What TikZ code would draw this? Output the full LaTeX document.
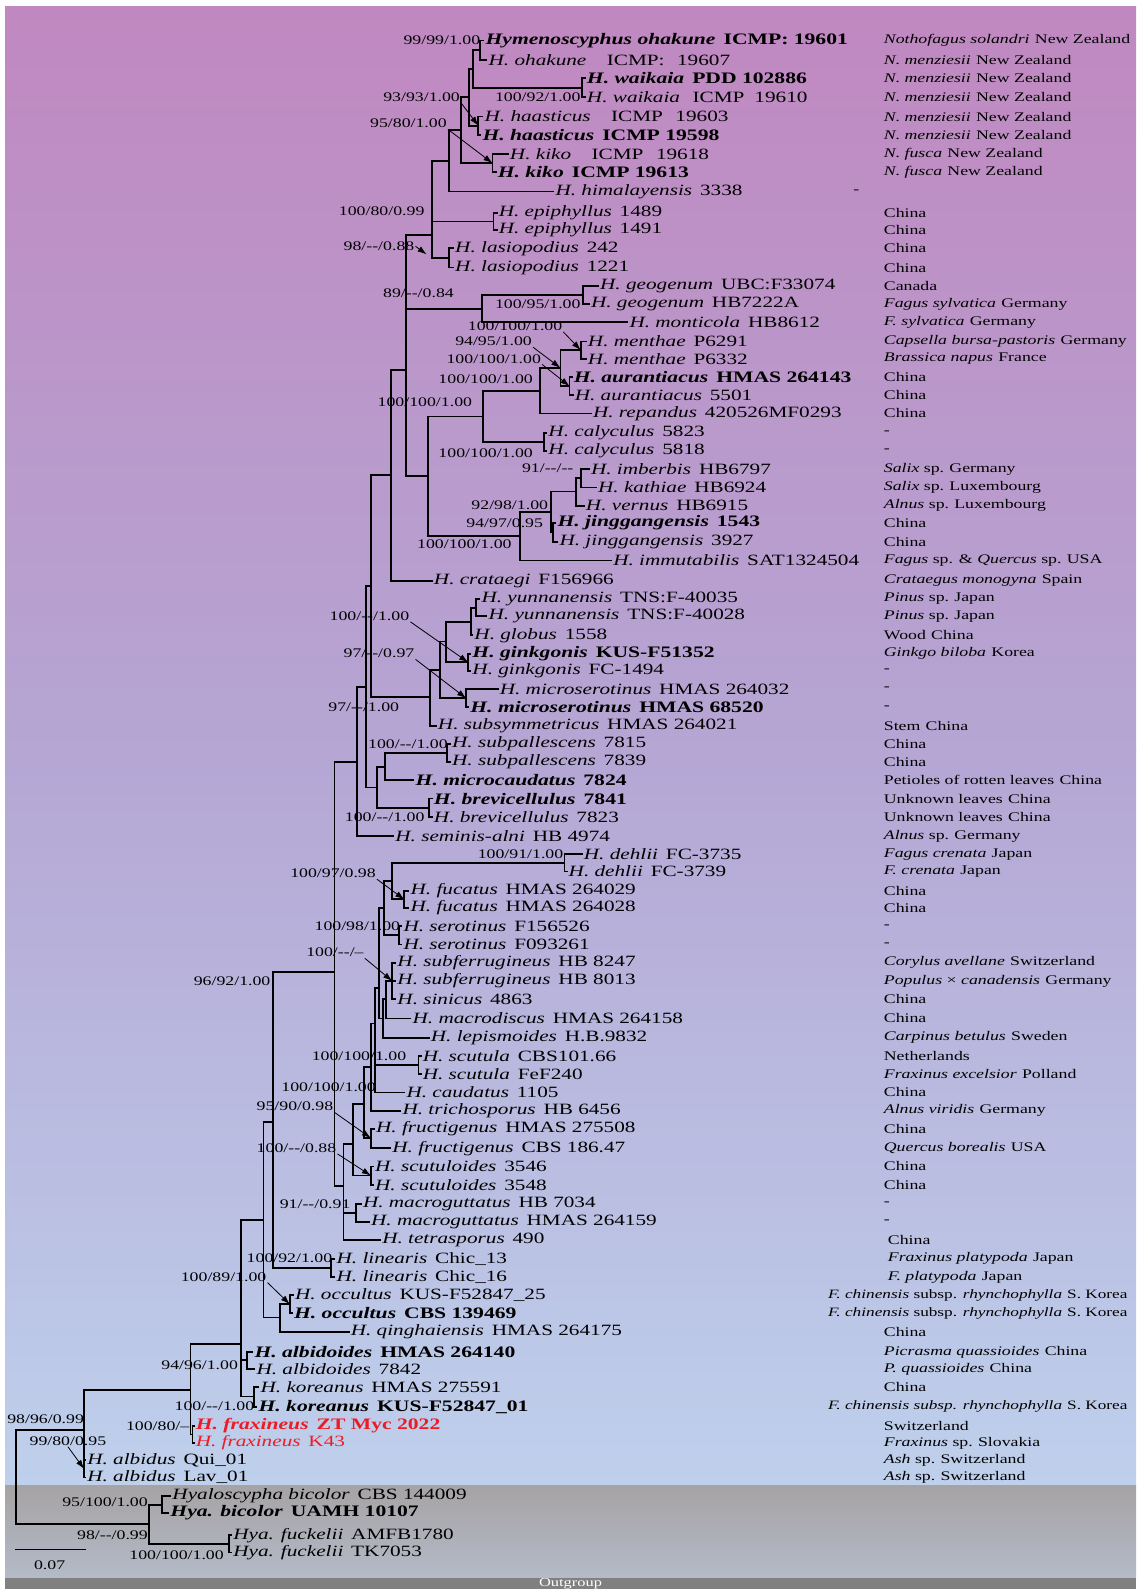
\documentclass[tikz,border=0pt]{standalone}
\usepackage{fontspec}
\setmainfont{Liberation Serif}[FakeStretch=1.35]
\usetikzlibrary{arrows.meta}

\definecolor{bgtop}{RGB}{192,136,192}
\definecolor{bgmid}{RGB}{181,166,212}
\definecolor{bglow}{RGB}{190,208,236}
\definecolor{grtop}{RGB}{166,163,164}
\definecolor{grlow}{RGB}{180,186,200}
\definecolor{outbar}{RGB}{128,128,128}
\definecolor{frax}{RGB}{236,28,36}

% tip labels: plain / bold
\newcommand\tp[2]{\textit{#1}\hspace{0.5em}#2}
\newcommand\tb[2]{{\fontsize{15.8}{17}\selectfont\bfseries\textit{#1}\hspace{0.5em}#2}}
\newcommand\hs[2]{\textit{#1}\hspace{0.4em}#2}
\newcommand\sm{\fontsize{12.6}{14}\selectfont}
\newcommand\wg{\hspace{0.8em}}

\tikzset{
  br/.style={line width=1.8pt},
  tip/.style={anchor=west,inner sep=1pt,font=\fontsize{15.5}{17}\selectfont},
  host/.style={anchor=west,inner sep=0pt,font=\fontsize{13}{15}\selectfont},
  supp/.style={anchor=east,inner sep=1pt,font=\fontsize{13}{15}\selectfont},
  pt/.style={line width=0.8pt,-{Latex[length=9pt,width=6pt]}},
}

\begin{document}
\begin{tikzpicture}[x=1pt,y=-1pt]
\useasboundingbox (0,0) rectangle (1121,1568);
% background bands
\fill[white] (0,0) rectangle (1121,1568);
\shade[top color=bgtop,bottom color=bgmid] (5,6) rectangle (1121,740.5);
\shade[top color=bgmid,bottom color=bglow] (5,740) rectangle (1121,1466);
\shade[top color=grtop,bottom color=grlow] (5,1466) rectangle (1121,1557);
\fill[outbar] (5,1557) rectangle (1121,1568);
\node[font=\fontsize{12}{13}\selectfont,text=white,inner sep=0pt] (og) at (563,1563) {Outgroup};

% tips
\foreach \n/\x/\y/\lab in {
  1/478/40/{\tb{Hymenoscyphus ohakune}{ICMP: 19601}},
  2/481/59/{\tp{H. ohakune}{\wg ICMP:\wg 19607}},
  3/578/77/{\tb{H. waikaia}{PDD 102886}},
  4/578/96/{\tp{H. waikaia}{\hspace{0.3em}ICMP\hspace{0.3em} 19610}},
  5/477/115/{\tp{H. haasticus}{\wg ICMP\wg 19603}},
  6/475/133/{\tb{H. haasticus}{ICMP 19598}},
  7/502/152/{\tp{H. kiko}{\wg ICMP\wg 19618}},
  8/490/170/{\tb{H. kiko}{ICMP 19613}},
  9/547/189/{\tp{H. himalayensis}{3338}},
  10/491/210/{\tp{H. epiphyllus}{1489}},
  11/491/227/{\tp{H. epiphyllus}{1491}},
  12/448/245/{\tp{H. lasiopodius}{242}},
  13/448/264/{\tp{H. lasiopodius}{1221}},
  14/591/282/{\tp{H. geogenum}{UBC:F33074}},
  15/582/300/{\tp{H. geogenum}{HB7222A}},
  16/620/318/{\tp{H. monticola}{HB8612}},
  17/579/337/{\tp{H. menthae}{P6291}},
  18/579/354/{\tp{H. menthae}{P6332}},
  19/565/372/{\tb{H. aurantiacus}{HMAS 264143}},
  20/566/390/{\tp{H. aurantiacus}{5501}},
  21/584/408/{\tp{H. repandus}{420526MF0293}},
  22/540/427/{\tp{H. calyculus}{5823}},
  23/540/445/{\tp{H. calyculus}{5818}},
  24/582/463/{\tp{H. imberbis}{HB6797}},
  25/589/481/{\tp{H. kathiae}{HB6924}},
  26/577/499/{\tp{H. vernus}{HB6915}},
  27/549/516/{\tb{H. jinggangensis}{1543}},
  28/551/535/{\tp{H. jinggangensis}{3927}},
  29/604/553/{\tp{H. immutabilis}{SAT1324504}},
  30/427/573/{\tp{H. crataegi}{F156966}},
  31/474/591/{\tp{H. yunnanensis}{TNS:F-40035}},
  32/481/608/{\tp{H. yunnanensis}{TNS:F-40028}},
  33/467/627/{\tp{H. globus}{1558}},
  34/465/645/{\tb{H. ginkgonis}{KUS-F51352}},
  35/465/662/{\tp{H. ginkgonis}{FC-1494}},
  36/492/680/{\tp{H. microserotinus}{HMAS 264032}},
  37/463/698/{\tb{H. microserotinus}{HMAS 68520}},
  38/431/716/{\tp{H. subsymmetricus}{HMAS 264021}},
  39/445/734/{\tp{H. subpallescens}{7815}},
  40/445/752/{\tp{H. subpallescens}{7839}},
  41/409/770/{\tb{H. microcaudatus}{7824}},
  42/427/788/{\tb{H. brevicellulus}{7841}},
  43/427/806/{\tp{H. brevicellulus}{7823}},
  44/389/825/{\tp{H. seminis-alni}{HB 4974}},
  45/575/843/{\tp{H. dehlii}{FC-3735}},
  46/560/860/{\tp{H. dehlii}{FC-3739}},
  47/404/879/{\tp{H. fucatus}{HMAS 264029}},
  48/404/896/{\tp{H. fucatus}{HMAS 264028}},
  49/397/914/{\tp{H. serotinus}{F156526}},
  50/397/932/{\tp{H. serotinus}{F093261}},
  51/391/950/{\tp{H. subferrugineus}{HB 8247}},
  52/391/968/{\tp{H. subferrugineus}{HB 8013}},
  53/391/986/{\tp{H. sinicus}{4863}},
  54/406/1005/{\tp{H. macrodiscus}{HMAS 264158}},
  55/424/1024/{\tp{H. lepismoides}{H.B.9832}},
  56/416/1042/{\tp{H. scutula}{CBS101.66}},
  57/416/1060/{\tp{H. scutula}{FeF240}},
  58/400/1078/{\tp{H. caudatus}{1105}},
  59/396/1096/{\tp{H. trichosporus}{HB 6456}},
  60/370/1114/{\tp{H. fructigenus}{HMAS 275508}},
  61/386/1133/{\tp{H. fructigenus}{CBS 186.47}},
  62/369/1151/{\tp{H. scutuloides}{3546}},
  63/369/1169/{\tp{H. scutuloides}{3548}},
  64/357/1188/{\tp{H. macroguttatus}{HB 7034}},
  65/365/1206/{\tp{H. macroguttatus}{HMAS 264159}},
  66/376/1224/{\tp{H. tetrasporus}{490}},
  67/331/1242/{\tp{H. linearis}{Chic\_13}},
  68/331/1260/{\tp{H. linearis}{Chic\_16}},
  69/290/1278/{\tp{H. occultus}{KUS-F52847\_25}},
  70/289/1296/{\tb{H. occultus}{CBS 139469}},
  71/345/1314/{\tp{H. qinghaiensis}{HMAS 264175}},
  72/250/1334/{\tb{H. albidoides}{HMAS 264140}},
  73/252/1351/{\tp{H. albidoides}{7842}},
  74/256/1369/{\tp{H. koreanus}{HMAS 275591}},
  75/254/1388/{\tb{H. koreanus}{KUS-F52847\_01}},
  76/192/1407/{\color{frax}\tb{H. fraxineus}{ZT Myc 2022}},
  77/192/1424/{\color{frax}\tp{H. fraxineus}{K43}},
  78/85/1441/{\tp{H. albidus}{Qui\_01}},
  79/85/1458/{\tp{H. albidus}{Lav\_01}},
  80/169/1476/{\tp{Hyaloscypha bicolor}{CBS 144009}},
  81/167/1493/{\tb{Hya. bicolor}{UAMH 10107}},
  82/229/1515/{\tp{Hya. fuckelii}{AMFB1780}},
  83/229/1532/{\tp{Hya. fuckelii}{TK7053}}}
  \node[tip] (t\n) at (\x,\y) {\lab};

% internal nodes
\coordinate (n1) at (474,49.5);   \coordinate (nWai) at (574,86.5);
\coordinate (nB) at (467,68);     \coordinate (nHaa) at (472,124);
\coordinate (nC) at (463,96);     \coordinate (nKiko) at (486,161);
\coordinate (nD) at (455,128.5);  \coordinate (nE) at (443,159);
\coordinate (nEpi) at (487,218.5);\coordinate (nLas) at (443,254.5);
\coordinate (nF) at (426,232);
\coordinate (nGeo) at (575,291);  \coordinate (nH) at (476,305);
\coordinate (nMen) at (573,345.5);\coordinate (nAur) at (562,381);
\coordinate (nMA) at (553,363);   \coordinate (nRep) at (533,386);
\coordinate (nCal) at (537,436);  \coordinate (nI) at (477,411);
\coordinate (nImb) at (573,472);  \coordinate (nVer) at (568,485);
\coordinate (nJin) at (546,525.5);\coordinate (nL) at (544,505);
\coordinate (nK) at (513,529);    \coordinate (nJ) at (422,470);
\coordinate (nG) at (401,365);    \coordinate (nM) at (386,469);
\coordinate (nYun) at (470,600);  \coordinate (nYG) at (465,614);
\coordinate (nGin) at (462,653.5);\coordinate (nGY) at (440,633);
\coordinate (nMic) at (460,689);  \coordinate (nGM) at (434,661);
\coordinate (nP) at (424,688);    \coordinate (nN) at (366,578);
\coordinate (nSp) at (441,743);   \coordinate (nR) at (380,757);
\coordinate (nBrev) at (423,797); \coordinate (nS) at (372,777);
\coordinate (nQ) at (361,678);    \coordinate (nV) at (352,752);
\coordinate (nDeh) at (557,851.5);\coordinate (nFuc) at (399,887.5);
\coordinate (nDF) at (387,869.5); \coordinate (nSer) at (394,923);
\coordinate (nDFS) at (379,896);  \coordinate (nSf) at (387,968);
\coordinate (nSfM) at (381,986);  \coordinate (nSfL) at (378,1005);
\coordinate (nX) at (374,975);    \coordinate (nScu) at (413,1051);
\coordinate (nX2) at (370,1010);  \coordinate (nX3) at (366,1053);
\coordinate (nFru) at (366,1123); \coordinate (nZ1) at (359,1089);
\coordinate (nScd) at (366,1160); \coordinate (nZ) at (348,1129);
\coordinate (nMac) at (351,1197); \coordinate (nY) at (339,1170);
\coordinate (nU) at (330,959);
\coordinate (nLin) at (327,1251); \coordinate (nW) at (269,1107);
\coordinate (nOcc) at (286,1287); \coordinate (nOcQ) at (276,1300);
\coordinate (nAA) at (260,1204);  \coordinate (nAlbd) at (244,1342);
\coordinate (nKor) at (251,1378); \coordinate (nAB) at (238,1326);
\coordinate (nFrax) at (190,1415.5); \coordinate (nAC) at (188,1372);
\coordinate (nAlb) at (83,1449.5); \coordinate (nAD) at (83,1411);
\coordinate (nBic) at (160,1485); \coordinate (nFuk) at (226,1523.5);
\coordinate (nOut) at (147,1504); \coordinate (root) at (16,1458);

% branches
\foreach \p/\c in {n1/t1.west,n1/t2.west,nWai/t3.west,nWai/t4.west,nB/n1,nB/nWai,
  nHaa/t5.west,nHaa/t6.west,nC/nB,nC/nHaa,nKiko/t7.west,nKiko/t8.west,nD/nC,nD/nKiko,
  nE/nD,nE/t9.west,nEpi/t10.west,nEpi/t11.west,nLas/t12.west,nLas/t13.west,
  nF/nE,nF/nEpi,nF/nLas,nGeo/t14.west,nGeo/t15.west,nH/nGeo,nH/t16.west,
  nMen/t17.west,nMen/t18.west,nAur/t19.west,nAur/t20.west,nMA/nMen,nMA/nAur,
  nRep/nMA,nRep/t21.west,nCal/t22.west,nCal/t23.west,nI/nRep,nI/nCal,
  nImb/t24.west,nImb/t25.west,nVer/nImb,nVer/t26.west,nJin/t27.west,nJin/t28.west,
  nL/nVer,nL/nJin,nK/nL,nK/t29.west,nJ/nI,nJ/nK,nG/nF,nG/nH,nG/nJ,nM/nG,nM/t30.west,
  nYun/t31.west,nYun/t32.west,nYG/nYun,nYG/t33.west,nGin/t34.west,nGin/t35.west,
  nGY/nYG,nGY/nGin,nMic/t36.west,nMic/t37.west,nGM/nGY,nGM/nMic,nP/nGM,nP/t38.west,
  nN/nM,nN/nP,nSp/t39.west,nSp/t40.west,nR/nSp,nR/t41.west,nBrev/t42.west,
  nBrev/t43.west,nS/nR,nS/nBrev,nQ/nN,nQ/nS,nV/nQ,nV/t44.west,
  nDeh/t45.west,nDeh/t46.west,nFuc/t47.west,nFuc/t48.west,nDF/nDeh,nDF/nFuc,
  nSer/t49.west,nSer/t50.west,nDFS/nDF,nDFS/nSer,nSf/t51.west,nSf/t52.west,
  nSf/t53.west,nSfM/nSf,nSfM/t54.west,nSfL/nSfM,nSfL/t55.west,nX/nDFS,nX/nSfL,
  nScu/t56.west,nScu/t57.west,nX2/nX,nX2/nScu,nX2/t58.west,nX3/nX2,nX3/t59.west,
  nFru/t60.west,nFru/t61.west,nZ1/nX3,nZ1/nFru,nScd/t62.west,nScd/t63.west,
  nZ/nZ1,nZ/nScd,nMac/t64.west,nMac/t65.west,nY/nZ,nY/nMac,nY/t66.west,
  nU/nV,nU/nY,nLin/t67.west,nLin/t68.west,nW/nU,nW/nLin,nOcc/t69.west,
  nOcc/t70.west,nOcQ/nOcc,nOcQ/t71.west,nAA/nW,nAA/nOcQ,nAlbd/t72.west,
  nAlbd/t73.west,nKor/t74.west,nKor/t75.west,nAB/nAA,nAB/nAlbd,nAB/nKor,
  nFrax/t76.west,nFrax/t77.west,nAC/nAB,nAC/nFrax,nAlb/t78.west,nAlb/t79.west,
  nAD/nAC,nAD/nAlb,nBic/t80.west,nBic/t81.west,nFuk/t82.west,nFuk/t83.west,
  nOut/nBic,nOut/nFuk,root/nAD,root/nOut}
  \draw[br] (\p) |- (\c);

% support values
\foreach \n/\x/\y/\lab in {
  1/475/40/{99/99/1.00}, 2/574/96/{100/92/1.00}, 3/455/96/{93/93/1.00},
  4/442/122/{95/80/1.00}, 5/420/208/{100/80/0.99}, 6/410/243/{98/-{}-/0.88},
  7/449/289/{89/-{}-/0.84}, 8/574/300/{100/95/1.00}, 9/556/322/{100/100/1.00},
  10/526/337/{94/95/1.00}, 11/535/354/{100/100/1.00}, 12/527/374/{100/100/1.00},
  13/467/397/{100/100/1.00}, 14/527/447/{100/100/1.00}, 15/567/462/{91/-{}-/-{}-},
  16/542/499/{92/98/1.00}, 17/537/516/{94/97/0.95}, 18/506/537/{100/100/1.00},
  19/405/608/{100/-{}-/1.00}, 20/410/645/{97/-{}-/0.97}, 21/395/698/{97/-{}-/1.00},
  22/443/734/{100/-{}-/1.00}, 23/420/806/{100/-{}-/1.00}, 24/557/843/{100/91/1.00},
  25/372/862/{100/97/0.98}, 26/396/914/{100/98/1.00}, 27/360/940/{100/-{}-/--},
  28/268/968/{96/92/1.00}, 29/402/1042/{100/100/1.00}, 30/372/1073/{100/100/1.00},
  31/330/1092/{95/90/0.98}, 32/333/1133/{100/-{}-/0.88}, 33/347/1188/{91/-{}-/0.91},
  34/329/1242/{100/92/1.00}, 35/264/1260/{100/89/1.00}, 36/236/1347/{94/96/1.00},
  37/252/1388/{100/-{}-/1.00}, 38/188/1407/{100/80/--}, 39/84/1400/{98/96/0.99},
  40/106/1422/{99/80/0.95}, 41/147/1482/{95/100/1.00}, 42/147/1515/{98/-{}-/0.99},
  43/222/1535/{100/100/1.00}}
  \node[supp] (s\n) at (\x,\y) {\lab};

% pointer arrows
\coordinate (aLas) at (421,251);
\draw[pt] (s3.south east) -- (nHaa);
\draw[pt] (s4.south east) -- (nKiko);
\draw[pt] (s6.east) -- (aLas);
\draw[pt] (s9.south east) -- (nMen);
\draw[pt] (s10.south east) -- (nMA);
\draw[pt] (s11.south east) -- (nAur);
\draw[pt] (s19.south east) -- (nGin);
\draw[pt] (s20.south east) -- (nMic);
\draw[pt] (s25.south east) -- (nFuc);
\draw[pt] (s27.south east) -- (nSf);
\draw[pt] (s31.south east) -- (nFru);
\draw[pt] (s32.south east) -- (nScd);
\draw[pt] (s35.south east) -- (nOcc);
\draw[pt] (s40.south) -- (nAlb);

% hosts
\coordinate (hx) at (872,0);
\foreach \n/\d/\lab in {
  1/0/{\hs{Nothofagus solandri}{New Zealand}}, 2/0/{\hs{N. menziesii}{New Zealand}},
  3/0/{\hs{N. menziesii}{New Zealand}}, 4/0/{\hs{N. menziesii}{New Zealand}},
  5/0/{\hs{N. menziesii}{New Zealand}}, 6/0/{\hs{N. menziesii}{New Zealand}},
  7/0/{\hs{N. fusca}{New Zealand}}, 8/0/{\hs{N. fusca}{New Zealand}},
  9/-30/{-}, 10/0/{China}, 11/0/{China}, 12/0/{China}, 13/0/{China},
  14/0/{Canada}, 15/0/{\hs{Fagus sylvatica}{Germany}}, 16/0/{\hs{F. sylvatica}{Germany}},
  17/0/{\hs{Capsella bursa-pastoris}{Germany}}, 18/0/{\hs{Brassica napus}{France}},
  19/0/{China}, 20/0/{China}, 21/0/{China}, 22/0/{-}, 23/0/{-},
  24/0/{\textit{Salix} sp.\hspace{0.4em}Germany}, 25/0/{\textit{Salix} sp.\hspace{0.4em}Luxembourg},
  26/0/{\textit{Alnus} sp.\hspace{0.4em}Luxembourg}, 27/0/{China}, 28/0/{China},
  29/0/{\textit{Fagus} sp. \& \textit{Quercus} sp.\hspace{0.4em}USA},
  30/0/{\hs{Crataegus monogyna}{Spain}}, 31/0/{\textit{Pinus} sp.\hspace{0.4em}Japan},
  32/0/{\textit{Pinus} sp.\hspace{0.4em}Japan}, 33/0/{Wood\hspace{0.4em}China},
  34/0/{\hs{Ginkgo biloba}{Korea}}, 35/0/{-}, 36/0/{-}, 37/0/{-},
  38/0/{Stem\hspace{0.4em}China}, 39/0/{China}, 40/0/{China},
  41/0/{Petioles of rotten leaves\hspace{0.4em}China}, 42/0/{Unknown leaves\hspace{0.4em}China},
  43/0/{Unknown leaves\hspace{0.4em}China}, 44/0/{\textit{Alnus} sp.\hspace{0.4em}Germany},
  45/0/{\hs{Fagus crenata}{Japan}}, 46/0/{\hs{F. crenata}{Japan}}, 47/0/{China},
  48/0/{China}, 49/0/{-}, 50/0/{-}, 51/0/{\hs{Corylus avellane}{Switzerland}},
  52/0/{\textit{Populus} × \textit{canadensis}\hspace{0.4em}Germany}, 53/0/{China},
  54/0/{China}, 55/0/{\hs{Carpinus betulus}{Sweden}}, 56/0/{Netherlands},
  57/0/{\hs{Fraxinus excelsior}{Polland}}, 58/0/{China}, 59/0/{\hs{Alnus viridis}{Germany}},
  60/0/{China}, 61/0/{\hs{Quercus borealis}{USA}}, 62/0/{China}, 63/0/{China},
  64/0/{-}, 65/0/{-}, 66/4/{China}, 67/4/{\hs{Fraxinus platypoda}{Japan}},
  68/4/{\hs{F. platypoda}{Japan}},
  69/-55/{\sm\textit{F. chinensis} subsp. \textit{rhynchophylla}\hspace{0.4em}S. Korea},
  70/-55/{\sm\textit{F. chinensis} subsp. \textit{rhynchophylla}\hspace{0.4em}S. Korea},
  71/0/{China}, 72/0/{\hs{Picrasma quassioides}{China}}, 73/0/{\hs{P. quassioides}{China}},
  74/0/{China}, 75/-55/{\sm\hs{F. chinensis subsp. rhynchophylla}{S. Korea}},
  76/0/{Switzerland}, 77/0/{\textit{Fraxinus} sp.\hspace{0.4em}Slovakia},
  78/0/{\textit{Ash} sp.\hspace{0.4em}Switzerland}, 79/0/{\textit{Ash} sp.\hspace{0.4em}Switzerland}}
  \node[host,xshift=\d] (h\n) at (t\n.west -| hx) {\lab};

% scale bar
\coordinate (sbA) at (15,1529);
\coordinate (sbB) at (85,1529);
\draw[line width=1.6pt] (sbA) -- (sbB);
\node[font=\fontsize{13}{15}\selectfont] (sbl) at (49,1545) {0.07};
\end{tikzpicture}
\end{document}
